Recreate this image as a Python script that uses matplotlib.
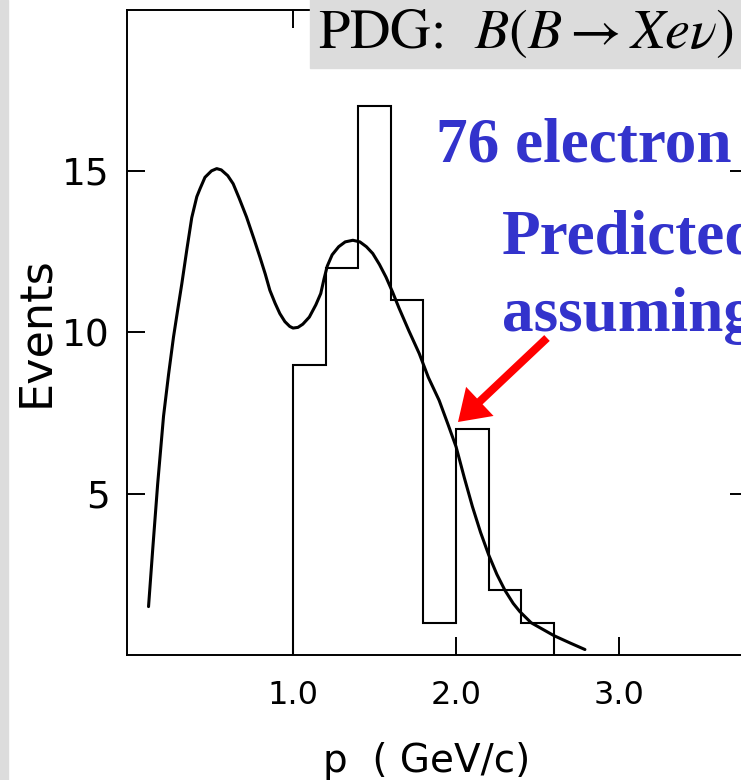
import matplotlib
matplotlib.use("Agg")
import matplotlib.pyplot as plt
from matplotlib.patches import Rectangle, FancyArrow
from matplotlib.transforms import Affine2D

# ---- data ----
bin_edges = [1.0, 1.2, 1.4, 1.6, 1.8, 2.0, 2.2, 2.4, 2.6]
bin_counts = [9, 12, 17, 11, 1, 7, 2, 1]

curve_p = [0.114, 0.14, 0.17, 0.206, 0.237, 0.267, 0.293, 0.318, 0.35, 0.379,
           0.41, 0.43, 0.46, 0.5, 0.532, 0.56, 0.6, 0.633, 0.67, 0.715,
           0.76, 0.797, 0.83, 0.858, 0.89, 0.919, 0.95, 0.98, 1.0, 1.03,
           1.06, 1.10, 1.14, 1.17, 1.19, 1.21, 1.24, 1.28, 1.32, 1.367,
           1.41, 1.45, 1.489, 1.53, 1.57, 1.61, 1.65, 1.71, 1.774, 1.83,
           1.896, 1.95, 2.0, 2.05, 2.1, 2.15, 2.2, 2.25, 2.3, 2.35,
           2.39, 2.46, 2.53, 2.6, 2.7, 2.79]
curve_n = [1.5, 3.3, 5.3, 7.4, 8.7, 9.85, 10.7, 11.5, 12.6, 13.55,
           14.2, 14.45, 14.8, 15.0, 15.07, 15.03, 14.85, 14.6, 14.15, 13.57,
           12.9, 12.33, 11.8, 11.3, 10.9, 10.58, 10.33, 10.18, 10.13, 10.15,
           10.25, 10.47, 10.85, 11.2, 11.65, 12.05, 12.4, 12.65, 12.8, 12.85,
           12.8, 12.65, 12.44, 12.1, 11.71, 11.25, 10.75, 10.05, 9.34, 8.6,
           7.89, 7.15, 6.45, 5.5, 4.6, 3.8, 3.1, 2.5, 2.0, 1.6,
           1.35, 1.0, 0.8, 0.6, 0.37, 0.17]

x_ticks = [1.0, 2.0, 3.0]
x_ticklabels = ["1.0", "2.0", "3.0"]
y_ticks = [5, 10, 15]
y_ticklabels = ["5", "10", "15"]

W, H = 741, 780
fig = plt.figure(figsize=(W / 100, H / 100), dpi=100)
fig.patch.set_facecolor("white")
px = Affine2D().scale(1 / W, 1 / H) + fig.transFigure  # pixel coords, y up

# left grey strip
fig.add_artist(Rectangle((0, 0), 8, H, transform=px, color="#dcdcdc", zorder=1))

ax = fig.add_axes([127.5 / W, 125 / H, (748 - 127.5) / W, 645.5 / H])
ax.set_xlim(-0.015, 3.79)
ax.set_ylim(0, 20)

tick_font = ["DejaVu Sans"]
ax.stairs(bin_counts, bin_edges, baseline=0, color="black", lw=1.5)
ax.plot(curve_p, curve_n, color="black", lw=2.2, solid_capstyle="round",
        solid_joinstyle="round")

for s in ax.spines.values():
    s.set_linewidth(1.4)
ax.set_xticks(x_ticks)
ax.set_xticklabels(x_ticklabels, family=tick_font, fontsize=23)
ax.set_yticks(y_ticks)
ax.set_yticklabels(y_ticklabels, family=tick_font, fontsize=27)
ax.tick_params(axis="both", direction="in", length=13, width=1.4,
               top=True, right=True)
ax.tick_params(axis="x", pad=18)
ax.tick_params(axis="y", pad=13)

# axis labels
fig.text(36 / W, (780 - 332) / H, "Events", rotation=90, ha="center",
         va="center", fontsize=32, family="DejaVu Sans")
fig.text(427 / W, (780 - 772) / H, "p  ( GeV/c)", ha="center",
         va="baseline", fontsize=28, family="DejaVu Sans")

# grey PDG box
fig.add_artist(Rectangle((310, H - 68), 440, 70, transform=px,
                         color="#dcdcdc", zorder=2))
plt.rcParams["mathtext.fontset"] = "stix"
fig.text(318 / W, (780 - 48) / H, r"PDG:  $B(B\rightarrow Xe\nu)$",
         fontsize=40.5, family="STIXGeneral", va="baseline", color="black",
         zorder=3)

# blue text
blue = "#3333cc"
for txt, x0, yb in [("76 electron", 436, 161), ("Predicted", 502, 253),
                    ("assuming", 502, 331)]:
    fig.text(x0 / W, (780 - yb) / H, txt, fontsize=45.5, fontweight="bold",
             family="Liberation Serif", color=blue, va="baseline", zorder=3)

# red arrow
tail = (547, 780 - 338)
tip = (458, 780 - 422)
fig.add_artist(FancyArrow(tail[0], tail[1], tip[0] - tail[0], tip[1] - tail[1],
                          width=8, head_width=40, head_length=30,
                          length_includes_head=True, transform=px,
                          color="#ff0000", lw=0, zorder=4))

fig.savefig("out.png", dpi=100)
